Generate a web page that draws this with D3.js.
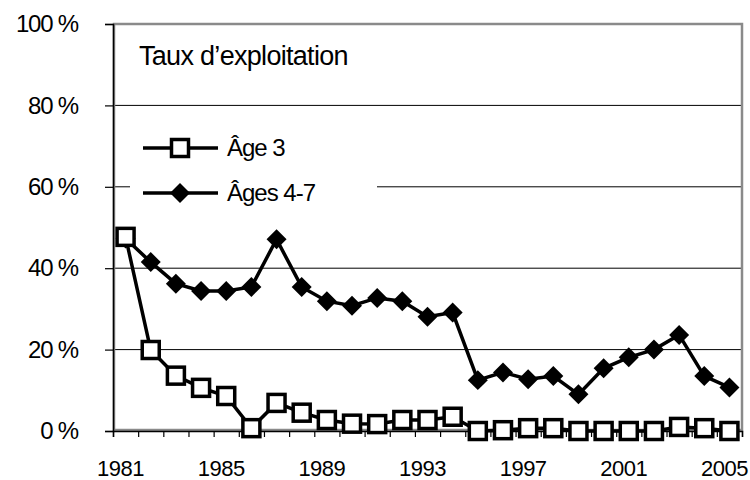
<!DOCTYPE html>
<html>
<head>
<meta charset="utf-8">
<script src="https://cdn.jsdelivr.net/npm/d3@7"></script>
<style>
body { margin: 0; background: #fff; }
svg text { font-family: "Liberation Sans", Arial, sans-serif; fill: #000; }
</style>
</head>
<body>
<svg id="chart" width="750" height="480"></svg>
<script>
var years = d3.range(1981, 2006);
var yearLabels = [1981, 1985, 1989, 1993, 1997, 2001, 2005];
var age3 = [47.7, 19.9, 13.6, 10.6, 8.6, 0.7, 6.9, 4.5, 2.7, 1.8, 1.7, 2.7, 2.7, 3.5,
            0.0, 0.2, 0.7, 0.7, 0.0, 0.0, 0.0, 0.0, 1.0, 0.7, 0.0];
var ages47 = [47.3, 41.5, 36.2, 34.4, 34.4, 35.4, 47.1, 35.4, 31.9, 30.8, 32.7, 31.9, 28.1, 29.1,
              12.5, 14.4, 12.7, 13.5, 9.0, 15.4, 18.1, 20.0, 23.6, 13.5, 10.7];
var yTicks = [0, 20, 40, 60, 80, 100];
var gridTicks = [20, 40, 60, 80];
var title = 'Taux d\u2019exploitation';
var seriesNames = ['\u00C2ge 3', '\u00C2ges 4-7'];

var pLeft = 113, pRight = 742, pTop = 24, pBottom = 431;
var svg = d3.select('#chart');

var x = d3.scaleBand().domain(years).range([pLeft, pRight]);
var xIdx = d3.scaleLinear().domain([0, years.length]).range([pLeft, pRight]);
var y = d3.scaleLinear().domain([0, 100]).range([pBottom, pTop]);
function cx(d, i){ return x(years[i]) + x.bandwidth()/2; }

// gridlines
svg.append('g').selectAll('line').data(gridTicks).enter().append('line')
	.attr('x1', pLeft).attr('x2', pRight)
	.attr('y1', function(d){ return y(d); }).attr('y2', function(d){ return y(d); })
	.attr('stroke', '#000').attr('stroke-width', 1);

// plot area border
svg.append('rect').attr('x', pLeft + 1).attr('y', pTop)
	.attr('width', pRight - pLeft - 1).attr('height', pBottom - pTop - 1)
	.attr('fill', 'none').attr('stroke', '#8a8a8a').attr('stroke-width', 2.5);

// title box
svg.append('rect').attr('x', 130).attr('y', 32).attr('width', 240).attr('height', 50).attr('fill', '#fff');
svg.append('text').attr('x', 139).attr('y', 65)
	.style('font-size', '27px').style('letter-spacing', '-0.7px').text(title);

// legend box (hides part of the 60% gridline)
svg.append('rect').attr('x', 130).attr('y', 125).attr('width', 247).attr('height', 85).attr('fill', '#fff');

// y axis
var yAxis = svg.append('g').attr('transform', 'translate(' + pLeft + ',0)')
	.call(d3.axisLeft(y).tickValues(yTicks).tickSize(8).tickPadding(27)
		.tickFormat(function(d){ return d + ' %'; }));
yAxis.select('.domain').attr('stroke', '#000').attr('stroke-width', 1.5);
yAxis.selectAll('.tick line').attr('stroke', '#000').attr('stroke-width', 1.2);
yAxis.selectAll('.tick text').style('font-size', '24px').style('letter-spacing', '-1.2px')
	.style('font-family', '"Liberation Sans", Arial, sans-serif').attr('fill', '#000');

// x axis ticks at category boundaries
var xAxis = svg.append('g').attr('transform', 'translate(0,' + pBottom + ')')
	.call(d3.axisBottom(xIdx).tickValues(d3.range(years.length + 1)).tickSize(6).tickFormat(''));
xAxis.select('.domain').attr('stroke', '#000').attr('stroke-width', 1.5);
xAxis.selectAll('.tick line').attr('stroke', '#000').attr('stroke-width', 1.2);

svg.append('g').selectAll('text').data(yearLabels).enter().append('text')
	.attr('x', function(d){ return x(d) + x.bandwidth()/2 - 5; })
	.attr('y', 476)
	.attr('text-anchor', 'middle')
	.style('font-size', '22px').style('letter-spacing', '-0.5px')
	.text(function(d){ return d; });

var line = d3.line().x(cx).y(function(d){ return y(d); });

// Ages 4-7
svg.append('path').datum(ages47).attr('d', line)
	.attr('fill', 'none').attr('stroke', '#000').attr('stroke-width', 3.5);
svg.append('g').selectAll('path').data(ages47).enter().append('path')
	.attr('d', d3.symbol().type(d3.symbolSquare).size(200))
	.attr('transform', function(d, i){ return 'translate(' + cx(d, i) + ',' + y(d) + ') rotate(45)'; })
	.attr('fill', '#000');

// Age 3
svg.append('path').datum(age3).attr('d', line)
	.attr('fill', 'none').attr('stroke', '#000').attr('stroke-width', 3.5);
svg.append('g').selectAll('rect').data(age3).enter().append('rect')
	.attr('x', function(d, i){ return cx(d, i) - 8.5; })
	.attr('y', function(d){ return y(d) - 8.5; })
	.attr('width', 17).attr('height', 17)
	.attr('fill', '#fff').attr('stroke', '#000').attr('stroke-width', 3.5);

// legend
var leg = svg.append('g');
leg.append('line').attr('x1', 143).attr('x2', 218).attr('y1', 148).attr('y2', 148)
	.attr('stroke', '#000').attr('stroke-width', 3.5);
leg.append('rect').attr('x', 171.5).attr('y', 139.5).attr('width', 17).attr('height', 17)
	.attr('fill', '#fff').attr('stroke', '#000').attr('stroke-width', 3.5);
leg.append('text').attr('x', 227).attr('y', 156).style('font-size', '24px')
	.style('letter-spacing', '-1px').text(seriesNames[0]);
leg.append('line').attr('x1', 143).attr('x2', 218).attr('y1', 193).attr('y2', 193)
	.attr('stroke', '#000').attr('stroke-width', 3.5);
leg.append('path').attr('d', d3.symbol().type(d3.symbolSquare).size(200))
	.attr('transform', 'translate(180,193) rotate(45)').attr('fill', '#000');
leg.append('text').attr('x', 227).attr('y', 201).style('font-size', '24px')
	.style('letter-spacing', '-1px').text(seriesNames[1]);
</script>
</body>
</html>
